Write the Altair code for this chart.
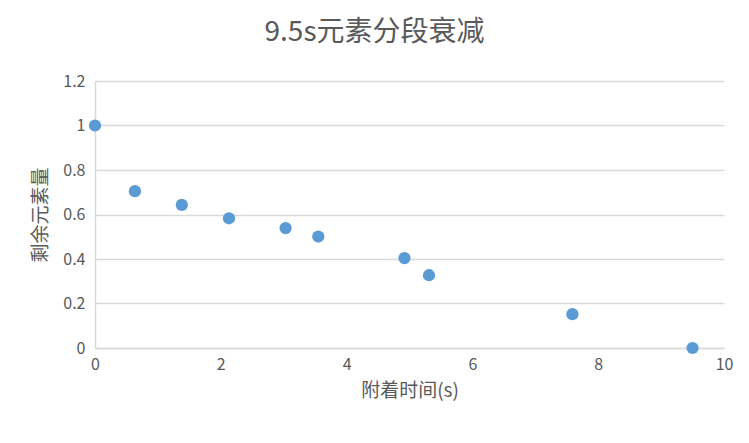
import altair as alt
import pandas as pd

time_s = [0, 0.635, 1.38, 2.13, 3.03, 3.55, 4.92, 5.31, 7.59, 9.5]
remaining = [1.0, 0.705, 0.643, 0.583, 0.539, 0.501, 0.404, 0.327, 0.152, 0.0]
x_ticks = [0, 2, 4, 6, 8, 10]
y_ticks = [0, 0.2, 0.4, 0.6, 0.8, 1.0, 1.2]

df = pd.DataFrame({"t": time_s, "r": remaining})

FONT = "Noto Sans CJK SC"
GREY = "#595959"

chart = alt.Chart(df).mark_circle(size=150, opacity=1, color="#5b9bd5", clip=False).encode(
    x=alt.X("t:Q", scale=alt.Scale(domain=[0, 10], nice=False),
            axis=alt.Axis(values=x_ticks, title="附着时间(s)", grid=False,
                          ticks=False, domainColor="#d9d9d9", domainWidth=1.5,
                          labelFlush=False,
                          labelColor=GREY, labelFontSize=16, labelFont=FONT,
                          labelPadding=8, titleColor=GREY, titleFontSize=19,
                          titleFont=FONT, titleFontWeight="normal", titlePadding=9)),
    y=alt.Y("r:Q", scale=alt.Scale(domain=[0, 1.2], nice=False),
            axis=alt.Axis(values=y_ticks, title="剩余元素量", grid=True,
                          gridColor="#d9d9d9", gridWidth=1.5, ticks=False,
                          domainColor="#d9d9d9", domainWidth=1.5,
                          labelFlush=False,
                          labelExpr="toString(round(datum.value*10)/10)",
                          labelColor=GREY, labelFontSize=16, labelFont=FONT,
                          labelPadding=10, titleColor=GREY, titleFontSize=19,
                          titleFont=FONT, titleFontWeight="normal", titlePadding=12)),
).properties(
    width=629, height=267,
    title=alt.TitleParams("9.5s元素分段衰减", fontSize=28, font=FONT, color=GREY,
                          fontWeight="normal", anchor="middle", dx=-35, offset=26),
    autosize=alt.AutoSizeParams(type="none"),
    padding={"left": 87, "top": 73, "right": 17, "bottom": 87},
    background="white",
).configure_view(stroke=None)

chart.save("out.html", embed_options={"renderer": "svg", "actions": False})
